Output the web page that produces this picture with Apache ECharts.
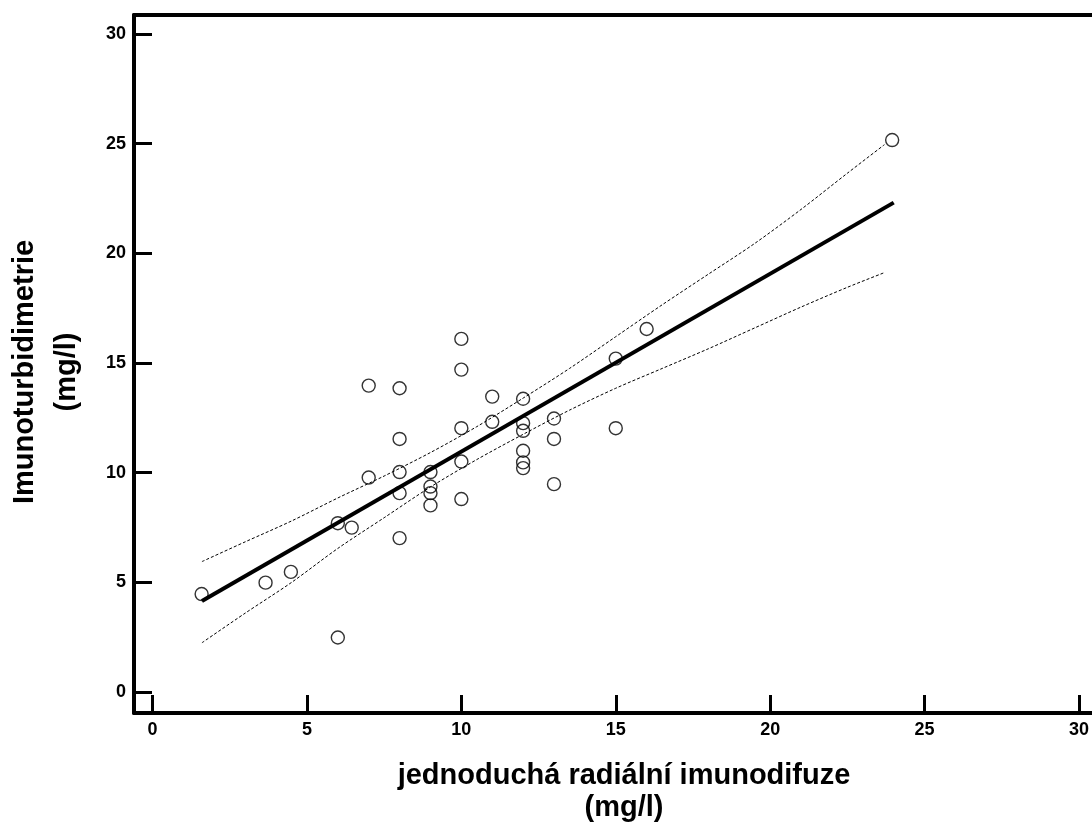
<!DOCTYPE html>
<html>
<head>
<meta charset="utf-8">
<script src="https://cdn.jsdelivr.net/npm/echarts@6/dist/echarts.min.js"></script>
<style>
  html, body { margin: 0; padding: 0; background: #fff; }
  #chart { width: 1092px; height: 823px; }
</style>
</head>
<body>
<div id="chart"></div>
<script>
// measured points (x = radial immunodiffusion, y = immunoturbidimetry), mg/l
const xValues = [10, 10, 7, 8, 11, 12, 10, 11, 12, 12, 13, 8, 13, 12, 12, 12, 10, 7, 8, 9,
  9, 9, 9, 8, 10, 13, 6, 6.45, 8, 15, 15, 16, 23.95, 1.59, 3.66, 4.48, 6];
const yValues = [16.1, 14.7, 13.97, 13.85, 13.47, 13.37, 12.03, 12.32, 12.26, 11.91, 12.47, 11.54, 11.54, 11.0, 10.47, 10.21, 10.51, 9.78, 10.03, 10.03,
  9.37, 9.07, 8.51, 9.07, 8.8, 9.48, 7.7, 7.5, 7.02, 15.2, 12.03, 16.55, 25.16, 4.47, 4.99, 5.48, 2.49];

// regression line end points
const fitX = [1.6, 24];
const fitY = [4.15, 22.31];

// confidence band
const bandX = [1.6, 3, 4.5, 6, 7.5, 9, 10.5, 12, 13.5, 15, 16.5, 18, 19.5, 21, 22.5, 23.7];
const upperY = [5.95, 6.85, 7.8, 8.85, 9.85, 10.92, 12.1, 13.4, 14.75, 16.2, 17.65, 19.05, 20.45, 22.0, 23.65, 24.95];
const lowerY = [2.25, 3.6, 5.0, 6.55, 7.95, 9.35, 10.6, 11.75, 12.85, 13.85, 14.75, 15.65, 16.6, 17.55, 18.45, 19.12];

const tickValues = [0, 5, 10, 15, 20, 25, 30];

const xTitle = "jednoduchá radiální imunodifuze";
const yTitle = "Imunoturbidimetrie";
const unitLabel = "(mg/l)";

const zip = (xs, ys) => xs.map((x, i) => [x, ys[i]]);

const font = "Liberation Sans, Arial, sans-serif";

const chart = echarts.init(document.getElementById("chart"));

const axisCommon = {
  type: "value",
  splitLine: { show: false },
  axisLine: { show: true, onZero: false, lineStyle: { color: "#000", width: 4 } },
  axisTick: {
    show: true,
    inside: true,
    length: 18,
    customValues: tickValues,
    lineStyle: { color: "#000", width: 3 },
  },
  axisLabel: {
    show: true,
    customValues: tickValues,
    color: "#000",
    fontFamily: font,
    fontWeight: "bold",
    fontSize: 18,
    margin: 8,
  },
};

chart.setOption({
  animation: false,
  backgroundColor: "#fff",
  grid: { left: 134, top: 15, width: 960, height: 698, containLabel: false },
  xAxis: [
    { ...axisCommon, min: -0.6, max: 30.4, position: "bottom" },
    {
      // top frame line only
      type: "value",
      min: -0.6,
      max: 30.4,
      position: "top",
      axisLine: { show: true, onZero: false, lineStyle: { color: "#000", width: 4 } },
      axisTick: { show: false },
      axisLabel: { show: false },
      splitLine: { show: false },
    },
  ],
  yAxis: { ...axisCommon, min: -0.95, max: 30.86 },
  graphic: [
    {
      type: "text",
      x: 624,
      y: 760,
      style: {
        text: xTitle + "\n" + unitLabel,
        font: "bold 29px " + font,
        fill: "#000",
        align: "center",
        verticalAlign: "top",
        lineHeight: 32,
      },
    },
    {
      type: "text",
      x: 46,
      y: 372,
      rotation: Math.PI / 2,
      style: {
        text: yTitle + "\n" + unitLabel,
        font: "bold 29px " + font,
        fill: "#000",
        align: "center",
        verticalAlign: "middle",
        lineHeight: 42,
      },
    },
  ],
  series: [
    {
      type: "line",
      data: zip(bandX, upperY),
      symbol: "none",
      smooth: 0.3,
      lineStyle: { color: "#000", width: 1, type: [3, 2] },
      z: 2,
    },
    {
      type: "line",
      data: zip(bandX, lowerY),
      symbol: "none",
      smooth: 0.3,
      lineStyle: { color: "#000", width: 1, type: [3, 2] },
      z: 2,
    },
    {
      type: "line",
      data: zip(fitX, fitY),
      symbol: "none",
      lineStyle: { color: "#000", width: 4 },
      z: 3,
    },
    {
      type: "scatter",
      data: zip(xValues, yValues),
      symbol: "circle",
      symbolSize: 13,
      itemStyle: { color: "rgba(255,255,255,0)", borderColor: "#000", borderWidth: 1.4 },
      z: 4,
    },
  ],
});
</script>
</body>
</html>
